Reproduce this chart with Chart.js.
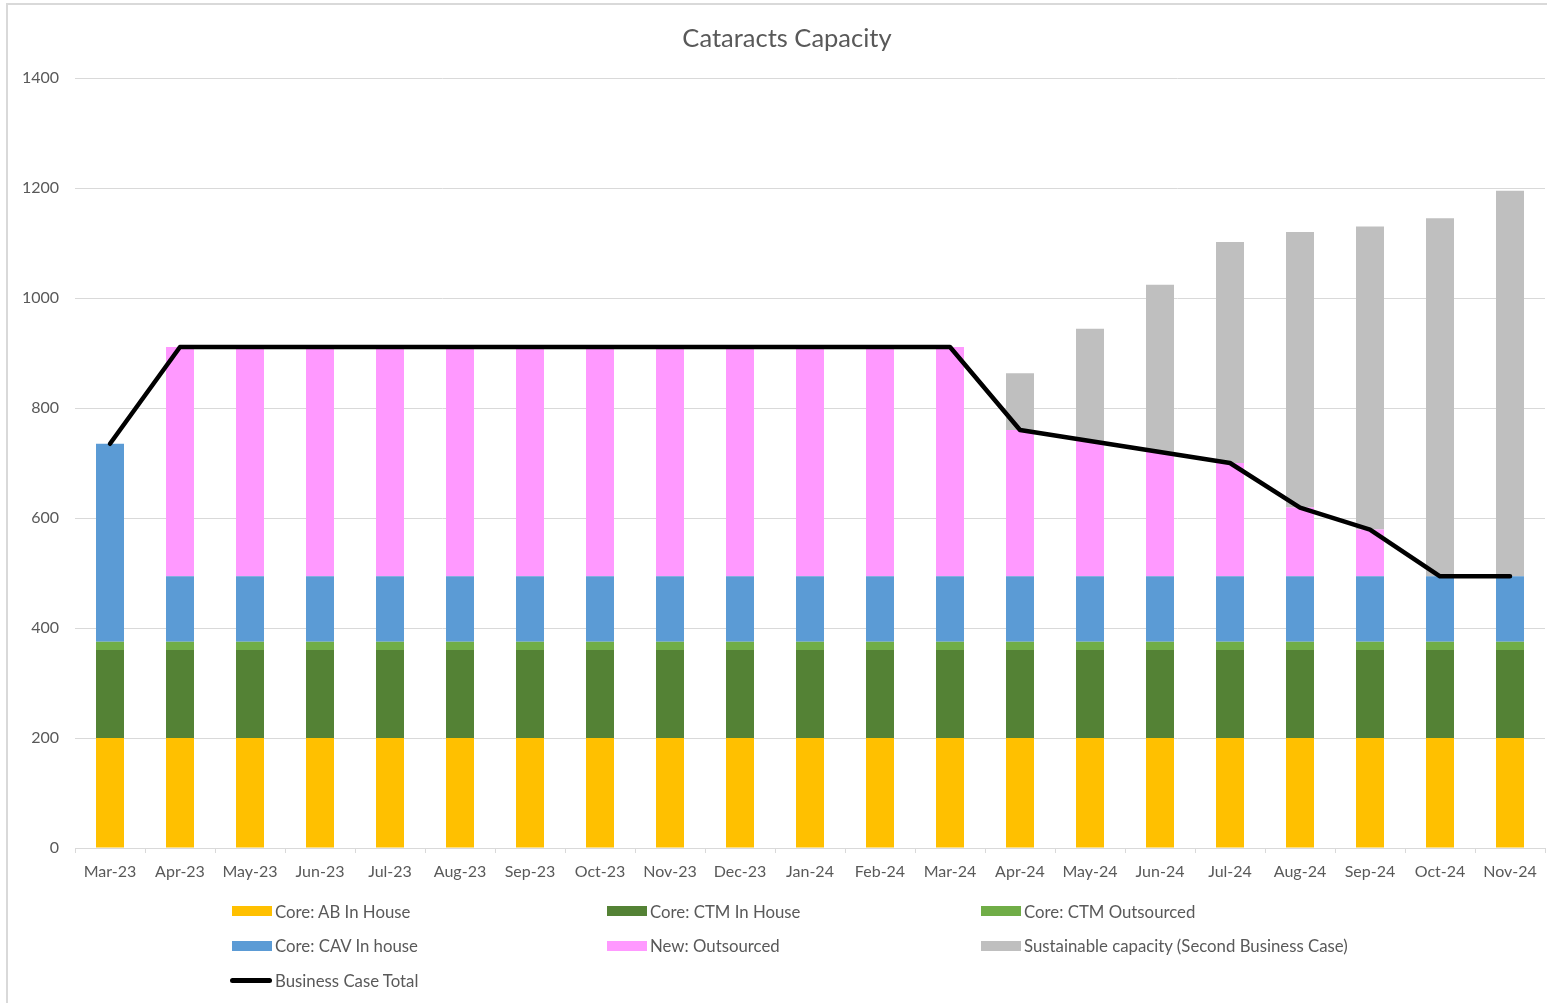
<!DOCTYPE html>
<html>
<head>
<meta charset="utf-8">
<title>Cataracts Capacity</title>
<script src="https://cdn.jsdelivr.net/npm/chart.js@4.4.1/dist/chart.umd.min.js"></script>
<style>
  html, body { margin: 0; padding: 0; background: #fff; }
  body { width: 1547px; height: 1003px; overflow: hidden; position: relative;
         font-family: Lato, "Open Sans", "Liberation Sans", sans-serif; color: #595959; }
  #frame { position: absolute; left: 6px; top: 3px; width: 1600px; height: 1100px;
           border: 2px solid #d9d9d9; box-sizing: border-box; }
  #title { position: absolute; left: 537px; width: 500px; top: 21px; text-align: center;
           font-size: 25.5px; color: #595959; line-height: 32px; }
  #chart { position: absolute; left: 0; top: 0; }
  #legend { position: absolute; left: 230px; top: 899px; display: grid;
            grid-template-columns: 375px 374px 400px; grid-auto-rows: 34.5px; font-size: 16.8px; }
  .item { display: flex; align-items: center; white-space: nowrap; height: 24px; }
  .sw { display: inline-block; width: 40px; height: 10px; margin: 0 3px 0 2px; }
  .ln { display: inline-block; width: 42px; height: 5px; border-radius: 3px; margin-right: 3px; }
</style>
</head>
<body>
<div id="frame"></div>
<canvas id="chart" width="1547" height="1003"></canvas>
<div id="title">Cataracts Capacity</div>
<div id="legend"></div>
<script>
// Months on the category axis
const months = ['Mar-23','Apr-23','May-23','Jun-23','Jul-23','Aug-23','Sep-23','Oct-23','Nov-23',
                'Dec-23','Jan-24','Feb-24','Mar-24','Apr-24','May-24','Jun-24','Jul-24','Aug-24',
                'Sep-24','Oct-24','Nov-24'];

// Capacity components (stacked bars)
const abInHouse      = [200,200,200,200,200,200,200,200,200,200,200,200,200,200,200,200,200,200,200,200,200];
const ctmInHouse     = [160,160,160,160,160,160,160,160,160,160,160,160,160,160,160,160,160,160,160,160,160];
const ctmOutsourced  = [15,15,15,15,15,15,15,15,15,15,15,15,15,15,15,15,15,15,15,15,15];
const cavInHouse     = [360,119,119,119,119,119,119,119,119,119,119,119,119,119,119,119,119,119,119,119,119];
const newOutsourced  = [0,417,417,417,417,417,417,417,417,417,417,417,417,266,246,226,206,125,85,0,0];
const sustainable    = [0,0,0,0,0,0,0,0,0,0,0,0,0,103,204,304,402,501,551,651,701];

// Business case total (line)
const businessCaseTotal = [735,911,911,911,911,911,911,911,911,911,911,911,911,760,740,720,700,619,579,494,494];

// Value axis ticks
const yTicks = [0,200,400,600,800,1000,1200,1400];

const barSeries = [
  { label: 'Core: AB In House',   data: abInHouse,     color: '#FFC000' },
  { label: 'Core: CTM In House',  data: ctmInHouse,    color: '#548235' },
  { label: 'Core: CTM Outsourced',data: ctmOutsourced, color: '#70AD47' },
  { label: 'Core: CAV In house',  data: cavInHouse,    color: '#5B9BD5' },
  { label: 'New: Outsourced',     data: newOutsourced, color: '#FF99FF' },
  { label: 'Sustainable capacity (Second Business Case)', data: sustainable, color: '#BFBFBF' }
];

const gridColor = '#d9d9d9';
const textColor = '#595959';
const fontFamily = 'Lato, "Open Sans", "Liberation Sans", sans-serif';

const datasets = barSeries.map((s) => ({
  type: 'bar',
  label: s.label,
  data: s.data,
  backgroundColor: s.color,
  borderWidth: 0,
  stack: 'capacity',
  barPercentage: 0.4,
  categoryPercentage: 1.0,
  order: 2
}));
datasets.push({
  type: 'line',
  label: 'Business Case Total',
  data: businessCaseTotal,
  borderColor: '#000000',
  backgroundColor: '#000000',
  borderWidth: 4.5,
  pointRadius: 0,
  tension: 0,
  stack: 'total',
  borderCapStyle: 'round',
  borderJoinStyle: 'round',
  order: 1
});

const chart = new Chart(document.getElementById('chart'), {
  data: { labels: months, datasets: datasets },
  options: {
    responsive: false,
    devicePixelRatio: 1,
    animation: false,
    layout: { padding: { left: 0, right: 2, top: 78, bottom: 115 } },
    plugins: { legend: { display: false }, title: { display: false }, tooltip: { enabled: false } },
    scales: {
      x: {
        stacked: true,
        offset: true,
        grid: { display: true, drawOnChartArea: false, drawTicks: true, tickLength: 5, color: gridColor, offset: true },
        border: { display: true, color: gridColor, width: 1 },
        ticks: { color: textColor, font: { family: fontFamily, size: 16 }, padding: 9, maxRotation: 0, autoSkip: false },
        afterFit: (scale) => { scale.height = 40; }
      },
      y: {
        stacked: true,
        min: 0,
        max: 1400,
        afterBuildTicks: (scale) => { scale.ticks = yTicks.map(v => ({ value: v })); },
        grid: { color: gridColor, lineWidth: 1, drawTicks: false },
        border: { display: false },
        ticks: { color: textColor, font: { family: fontFamily, size: 16 }, padding: 16,
                 callback: (v) => String(v) },
        afterFit: (scale) => { scale.width = 75; }
      }
    }
  }
});

// Legend built from the chart's own datasets, three columns
const legend = document.getElementById('legend');
chart.data.datasets.forEach((ds) => {
  const item = document.createElement('div');
  item.className = 'item';
  const sw = document.createElement('span');
  if (ds.type === 'line') {
    sw.className = 'ln';
    sw.style.background = ds.borderColor;
  } else {
    sw.className = 'sw';
    sw.style.background = ds.backgroundColor;
  }
  const txt = document.createElement('span');
  txt.textContent = ds.label;
  item.appendChild(sw);
  item.appendChild(txt);
  legend.appendChild(item);
});
</script>
</body>
</html>
